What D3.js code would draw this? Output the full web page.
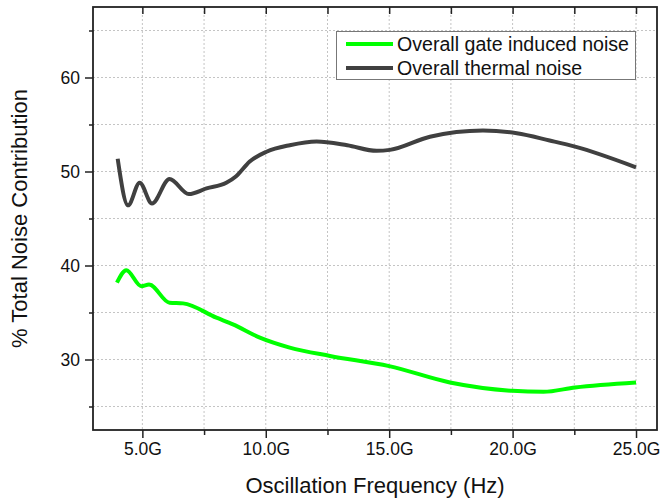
<!DOCTYPE html>
<html>
<head>
<meta charset="utf-8">
<script src="https://cdn.jsdelivr.net/npm/d3@7"></script>
<style>
    body { margin: 0; background: #fff; }
    svg { display: block; font-family: Arial, 'Liberation Sans', sans-serif; }
    .grid line { stroke: #c4c4c4; stroke-width: 1; stroke-dasharray: 2,2; }
</style>
</head>
<body>
<svg id="chart"></svg>
<script>
// frequency in GHz
const thermalFreq = [4.0, 4.42, 4.89, 5.39, 6.1, 6.88, 7.6, 8.4, 8.8, 9.35, 10.03, 10.97, 12.06, 13.3, 14.49, 15.03, 16.65, 18.8, 20.17, 21.5, 22.53, 25.0]
const thermalNoise = [51.35, 46.4, 48.8, 46.6, 49.2, 47.6, 48.2, 48.8, 49.5, 51.06, 52.1, 52.8, 53.2, 52.8, 52.2, 52.3, 53.7, 54.35, 54.07, 53.3, 52.65, 50.45]

const gateFreq = [3.97, 4.35, 4.96, 5.27, 6.1, 6.65, 8.0, 8.67, 9.76, 10.97, 12.6, 15.0, 17.46, 19.99, 21.25, 22.53, 25.0]
const gateNoise = [38.17, 39.5, 37.8, 37.98, 36.04, 35.97, 34.45, 33.74, 32.33, 31.27, 30.38, 29.3, 27.56, 26.67, 26.56, 27.03, 27.56]

const xMajorTicks = [5, 10, 15, 20, 25]
const xMinorTicks = [7.5, 12.5, 17.5, 22.5]
const yMajorTicks = [30, 40, 50, 60]
const yMinorTicks = [25, 35, 45, 55, 65]

const seriesNames = ['Overall gate induced noise', 'Overall thermal noise']
const seriesColors = ['#00ff00', '#404040']

const width = 660
const height = 500
const margin = { top: 7, right: 3, bottom: 70, left: 93 }

const svg = d3.select('#chart')
    .attr('width', width)
    .attr('height', height)

const x = d3.scaleLinear().domain([3, 25.85]).range([margin.left, width - margin.right])
const y = d3.scaleLinear().domain([22.5, 67.5]).range([height - margin.bottom, margin.top])

const plotLeft = margin.left
const plotRight = width - margin.right
const plotTop = margin.top
const plotBottom = height - margin.bottom

// grid
const grid = svg.append('g').classed('grid', true)
grid.selectAll('line.gx')
    .data([...xMajorTicks, ...xMinorTicks])
    .join('line')
    .classed('gx', true)
    .attr('x1', d => x(d)).attr('x2', d => x(d))
    .attr('y1', plotTop).attr('y2', plotBottom)
grid.selectAll('line.gy')
    .data([...yMajorTicks, ...yMinorTicks])
    .join('line')
    .classed('gy', true)
    .attr('x1', plotLeft).attr('x2', plotRight)
    .attr('y1', d => y(d)).attr('y2', d => y(d))

// series
const line = d3.line()
    .x(d => x(d[0]))
    .y(d => y(d[1]))
    .curve(d3.curveMonotoneX)

svg.append('path')
    .datum(d3.zip(gateFreq, gateNoise))
    .attr('d', line)
    .attr('fill', 'none')
    .attr('stroke', seriesColors[0])
    .attr('stroke-width', 4)
    .attr('stroke-linejoin', 'round')

svg.append('path')
    .datum(d3.zip(thermalFreq, thermalNoise))
    .attr('d', line)
    .attr('fill', 'none')
    .attr('stroke', seriesColors[1])
    .attr('stroke-width', 4)
    .attr('stroke-linejoin', 'round')

// axes
const fmtX = d => d.toFixed(1) + 'G'

svg.append('g')
    .attr('transform', `translate(0,${plotBottom})`)
    .call(d3.axisBottom(x).tickValues(xMajorTicks).tickFormat(fmtX).tickSize(8).tickPadding(5))
    .call(g => g.select('.domain').remove())
svg.append('g')
    .attr('transform', `translate(0,${plotBottom})`)
    .call(d3.axisBottom(x).tickValues(xMinorTicks).tickFormat('').tickSize(5))
    .call(g => g.select('.domain').remove())

svg.append('g')
    .attr('transform', `translate(${plotLeft},0)`)
    .call(d3.axisLeft(y).tickValues(yMajorTicks).tickSize(8).tickPadding(5))
    .call(g => g.select('.domain').remove())
svg.append('g')
    .attr('transform', `translate(${plotLeft},0)`)
    .call(d3.axisLeft(y).tickValues(yMinorTicks).tickFormat('').tickSize(4))
    .call(g => g.select('.domain').remove())

// top ticks pointing inward
svg.append('g')
    .attr('transform', `translate(0,${plotTop})`)
    .call(d3.axisBottom(x).tickValues([...xMajorTicks, ...xMinorTicks]).tickFormat('').tickSize(7))
    .call(g => g.select('.domain').remove())

svg.selectAll('.tick text')
    .attr('font-size', 17.5)
    .attr('font-family', 'Arial, Liberation Sans, sans-serif')
    .attr('fill', '#111')
svg.selectAll('.tick line')
    .attr('stroke', '#222')
    .attr('stroke-width', 1.5)

// frame
svg.append('rect')
    .attr('x', plotLeft).attr('y', plotTop)
    .attr('width', plotRight - plotLeft).attr('height', plotBottom - plotTop)
    .attr('fill', 'none')
    .attr('stroke', '#222')
    .attr('stroke-width', 1.8)

// axis titles
svg.append('text')
    .attr('x', (plotLeft + plotRight) / 2)
    .attr('y', 493)
    .attr('text-anchor', 'middle')
    .attr('font-size', 22)
    .attr('fill', '#111')
    .text('Oscillation Frequency (Hz)')

svg.append('text')
    .attr('transform', `translate(27,${(plotTop + plotBottom) / 2}) rotate(-90)`)
    .attr('text-anchor', 'middle')
    .attr('font-size', 22)
    .attr('fill', '#111')
    .text('% Total Noise Contribution')

// legend
const legend = svg.append('g')
legend.append('rect')
    .attr('x', 336.5).attr('y', 31.5)
    .attr('width', 299).attr('height', 48)
    .attr('fill', '#fff')
    .attr('stroke', '#777')
    .attr('stroke-width', 1)

const rows = legend.selectAll('g.row')
    .data(seriesNames)
    .join('g')
    .classed('row', true)
    .attr('transform', (d, i) => `translate(346,${44 + i * 24})`)
rows.append('line')
    .attr('x1', 0).attr('x2', 47)
    .attr('stroke', (d, i) => seriesColors[i])
    .attr('stroke-width', 4)
rows.append('text')
    .attr('x', 51)
    .attr('dy', '0.35em')
    .attr('font-size', 19.6)
    .attr('fill', '#111')
    .text(d => d)
</script>
</body>
</html>
